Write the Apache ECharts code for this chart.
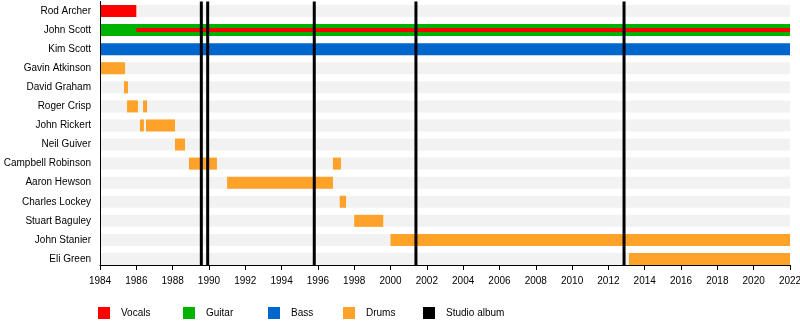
<!DOCTYPE html>
<html>
<head>
<meta charset="utf-8">
<script src="https://cdn.jsdelivr.net/npm/echarts@6/dist/echarts.min.js"></script>
<style>
html,body{margin:0;padding:0;background:#fff;}
#chart{width:800px;height:325px;}
</style>
</head>
<body>
<div id="chart"></div>
<script>
// ---- data ----
const members = ["Rod Archer","John Scott","Kim Scott","Gavin Atkinson","David Graham","Roger Crisp","John Rickert","Neil Guiver","Campbell Robinson","Aaron Hewson","Charles Lockey","Stuart Baguley","John Stanier","Eli Green"];
const vocals = [["Rod Archer",1984,1986]];
const vocalsLine = [["John Scott",1986,2022]];
const guitar = [["John Scott",1984,2022]];
const bass = [["Kim Scott",1984,2022]];
const drums = [
  ["Gavin Atkinson",1984,1985.38],
  ["David Graham",1985.32,1985.54],
  ["Roger Crisp",1985.49,1986.09],
  ["Roger Crisp",1986.37,1986.59],
  ["John Rickert",1986.2,1986.42],
  ["John Rickert",1986.53,1988.13],
  ["Neil Guiver",1988.13,1988.68],
  ["Campbell Robinson",1988.9,1990.44],
  ["Campbell Robinson",1996.83,1997.27],
  ["Aaron Hewson",1991.0,1996.83],
  ["Charles Lockey",1997.2,1997.55],
  ["Stuart Baguley",1998.0,1999.6],
  ["John Stanier",2000,2022],
  ["Eli Green",2013.13,2022]
];
const albums = [1989.58, 1989.93, 1995.8, 2001.4, 2012.86];
const yearMin = 1984, yearMax = 2022, yearStep = 2;

// ---- build ----
const toRows = arr => arr.map(d => [members.indexOf(d[0]), d[1], d[2]]);
const stripes = members.map((m, i) => [i, yearMin, yearMax]);
const yMax = 13 + 6 / 19.077;

function rectRender(h) {
  return function (params, api) {
    const s = api.coord([api.value(1), api.value(0)]);
    const e = api.coord([api.value(2), api.value(0)]);
    return {
      type: 'rect',
      shape: { x: s[0], y: s[1] - h / 2, width: e[0] - s[0], height: h },
      style: { fill: api.visual('color') }
    };
  };
}
function albumRender(params, api) {
  const a = api.coord([api.value(0), -0.5]);
  const b = api.coord([api.value(0), yMax]);
  return {
    type: 'rect',
    shape: { x: a[0] - 1.5, y: a[1], width: 3, height: b[1] - a[1] },
    style: { fill: '#000' }
  };
}
function barSeries(name, data, color, h, z) {
  return {
    type: 'custom', name: name, renderItem: rectRender(h),
    data: toRows(data), encode: { x: [1, 2], y: 0 },
    itemStyle: { color: color }, z: z, silent: true, clip: false
  };
}

const font = 'Liberation Sans, Arial, sans-serif';
const legendNames = ["Vocals","Guitar","Bass","Drums","Studio album"];
const legendLeft = [98, 183, 268, 343, 423];

const chart = echarts.init(document.getElementById('chart'), null, { renderer: 'canvas' });
chart.setOption({
  animation: false,
  backgroundColor: '#fff',
  grid: { left: 100, right: 10, top: 1.46, bottom: 60, containLabel: false, outerBoundsMode: 'none' },
  xAxis: {
    type: 'value', min: yearMin, max: yearMax, interval: yearStep, z: 10,
    axisLine: { show: true, onZero: false, lineStyle: { color: '#000', width: 1 } },
    axisTick: { show: true, length: 5, lineStyle: { color: '#000' } },
    axisLabel: { color: '#000', fontSize: 10, fontFamily: font, margin: 11.5, formatter: v => String(v) },
    splitLine: { show: false }
  },
  yAxis: {
    type: 'value', inverse: true, min: -0.5, max: yMax, z: 10,
    axisLine: { show: true, onZero: false, lineStyle: { color: '#000', width: 1 } },
    axisTick: { show: false },
    splitLine: { show: false },
    axisLabel: {
      customValues: members.map((m, i) => i),
      formatter: v => members[Math.round(v)] || '',
      color: '#000', fontSize: 10, fontFamily: font, margin: 9
    }
  },
  legend: legendNames.map((n, i) => ({
    data: [n], left: legendLeft[i], top: 307, orient: 'horizontal',
    icon: 'rect', itemWidth: 12, itemHeight: 12, selectedMode: false,
    padding: 0,
    textStyle: { color: '#000', fontSize: 10, fontFamily: font, padding: [0, 0, 0, 6] }
  })),
  series: [
    { type: 'custom', name: 'bg', renderItem: rectRender(12), data: stripes,
      encode: { x: [1, 2], y: 0 }, itemStyle: { color: '#f2f2f2' }, z: 1, silent: true },
    barSeries('Vocals', vocals, '#ff0000', 12, 2),
    barSeries('Guitar', guitar, '#00b300', 12, 2),
    barSeries('Bass', bass, '#0066cc', 12, 2),
    barSeries('Drums', drums, '#ffa229', 12, 2),
    barSeries('Vocals', vocalsLine, '#ff0000', 4, 3),
    { type: 'custom', name: 'Studio album', renderItem: albumRender,
      data: albums.map(a => [a]), encode: { x: 0 }, itemStyle: { color: '#000' }, z: 4, silent: true, clip: false }
  ]
});
</script>
</body>
</html>
